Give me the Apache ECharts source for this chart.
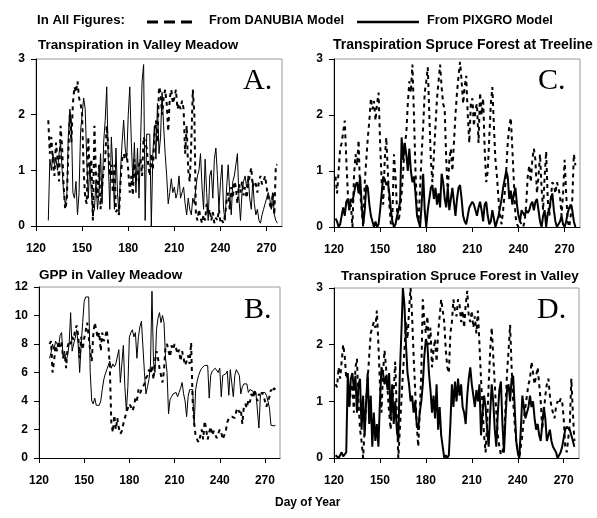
<!DOCTYPE html>
<html><head><meta charset="utf-8">
<script src="https://cdn.jsdelivr.net/npm/echarts@6/dist/echarts.min.js"></script>
<style>html,body{margin:0;padding:0;background:#fff}#c{width:597px;height:518px}</style>
</head><body><div id="c"></div>
<script>
// ---- data (day of year, daily values) ----
const xTicks = [120,150,180,210,240,270];
const firstDayA = 128;
const pixgroA = [0.1,1.2,1.0,1.3,1.1,1.2,1.0,1.3,1.5,1.0,
0.6,0.4,0.5,1.6,2.1,1.9,0.6,0.5,0.8,0.2,
0.6,1.7,2.0,2.3,2.1,1.2,0.5,1.1,0.6,0.2,
0.3,0.8,0.3,0.6,1.3,0.4,1.5,1.9,2.5,1.2,
0.3,1.6,1.0,0.3,1.4,0.6,0.2,1.0,1.5,1.9,
1.4,1.2,2.0,2.5,1.5,0.8,1.5,0.6,1.4,0.5,
1.5,2.6,2.9,0.1,1.65,1.65,1.65,0.0,1.3,1.8,
1.2,2.2,1.3,1.6,2.4,1.8,1.3,0.9,0.4,0.6,
0.85,0.6,0.7,0.5,0.6,0.9,0.5,0.5,0.7,0.4,
0.2,0.5,0.3,0.2,0.5,0.4,0.7,0.9,1.0,1.3,
0.7,0.3,1.2,0.6,0.1,0.9,1.0,0.5,1.2,1.4,
0.9,0.3,0.8,1.1,0.3,0.1,0.7,1.1,0.6,0.2,
0.8,0.9,1.1,1.3,0.5,0.1,0.6,0.8,0.9,0.7,
0.9,0.5,0.3,0.8,0.4,0.2,0.3,0.1,0.05,0.2,
0.3,0.4,0.5,0.6,0.5,0.3,0.6,0.2,0.1,0.05];
const danubiaA = [1.9,1.3,1.6,1.1,0.9,1.5,1.2,0.8,1.8,1.4,
0.7,0.3,0.45,1.3,2.0,1.5,2.2,2.5,2.4,2.6,
2.3,2.2,2.0,1.0,0.5,0.4,1.6,0.9,1.2,0.1,
1.8,0.9,0.5,1.1,0.3,0.7,1.0,1.2,1.8,1.4,
0.9,1.1,0.6,1.1,0.25,0.3,0.2,0.8,1.2,1.3,
1.2,1.3,1.0,0.6,0.9,0.55,1.2,0.8,0.9,1.1,
1.2,0.9,1.6,1.6,1.4,1.1,0.9,1.3,1.0,1.6,
1.9,1.5,2.5,2.4,2.0,2.3,2.45,2.2,1.7,2.3,
2.45,2.2,2.3,2.45,2.1,2.2,2.1,2.25,2.1,1.3,
1.8,1.0,0.8,1.5,2.45,2.0,0.2,0.1,0.3,0.15,
0.05,0.2,0.1,0.4,0.2,0.3,0.1,0.25,0.05,0.15,
0.1,0.3,0.05,0.1,0.05,0.2,0.45,0.6,0.3,0.7,
0.5,0.8,0.7,0.4,0.75,0.6,0.8,0.55,0.7,0.5,
0.75,0.9,1.05,0.7,0.8,0.75,0.6,0.8,0.9,0.75,
0.8,0.9,0.7,0.5,0.4,0.3,0.6,0.2,1.1,1.1];

const firstDayB = 127;
const pixgroB = [7.0,7.4,8.0,7.6,8.2,8.3,7.8,8.6,8.8,7.0,
7.5,6.8,7.2,8.0,10.2,7.5,8.0,8.4,9.0,8.0,
6.0,8.0,9.5,11.0,11.3,11.2,11.3,6.0,4.0,3.8,
4.2,3.7,3.6,3.7,4.0,4.8,5.5,5.9,6.2,6.5,
6.8,6.3,6.6,6.4,6.6,6.5,7.6,5.3,5.4,7.9,
5.0,3.3,5.0,8.5,8.8,9.0,8.5,8.8,7.0,8.5,
9.2,9.6,9.7,6.0,4.5,5.0,5.5,6.5,11.7,6.8,
6.0,9.0,9.8,10.2,9.5,10.0,9.5,7.0,6.0,3.1,
4.1,4.3,4.5,4.4,4.6,4.3,4.6,4.9,5.3,4.5,
4.0,2.9,4.3,4.8,4.7,4.8,2.3,4.8,5.4,5.8,
6.1,6.3,6.4,6.5,6.5,6.5,4.2,5.8,6.1,6.2,
6.3,6.3,6.0,6.3,4.3,5.8,5.7,5.9,6.1,4.4,
6.2,6.3,4.3,5.8,6.2,6.2,5.8,4.5,5.0,5.2,
5.1,5.2,4.6,4.8,4.9,4.7,4.4,4.6,4.6,2.1,
4.4,4.6,4.7,4.6,4.4,4.0,3.5,2.3,2.3,2.25,
2.3];
const danubiaB = [8.0,8.2,6.0,6.8,7.9,7.5,8.2,7.8,8.1,7.0,
7.3,6.3,7.8,8.2,8.0,8.5,8.3,9.0,9.3,8.6,
7.0,8.5,7.6,8.4,8.9,9.5,8.5,7.5,6.8,8.6,
9.5,9.0,8.4,8.8,7.5,8.8,8.2,8.5,9.0,8.0,
6.5,2.5,1.8,3.0,2.0,2.8,2.1,1.7,1.9,2.4,
2.8,3.2,3.5,3.8,3.6,3.3,3.6,4.2,4.0,4.8,
4.5,4.8,5.0,5.2,5.6,5.8,6.2,5.9,6.5,5.5,
6.8,7.5,7.0,6.3,5.8,5.3,6.2,7.8,8.0,7.5,
7.1,7.9,7.6,8.0,7.7,7.3,7.6,6.8,7.5,7.0,
6.5,6.8,7.2,6.6,8.1,4.0,2.5,1.5,1.3,1.1,
1.5,2.0,1.3,2.6,2.0,1.3,1.8,2.2,1.6,1.9,
1.8,1.4,1.7,2.0,1.8,1.3,1.6,1.9,2.5,2.8,
2.7,2.9,3.0,2.8,3.3,3.5,3.2,3.4,2.4,3.6,
3.8,3.5,4.1,3.9,4.5,4.2,4.8,4.3,4.0,4.5,
4.3,4.6,4.4,4.0,3.6,4.0,4.3,4.8,4.6,4.9,
4.8];

const firstDayC = 121;
const pixgroC = [0.15,0.1,0.0,0.05,0.2,0.35,0.2,0.45,0.5,0.3,
0.5,0.45,0.6,0.75,0.8,0.6,0.9,0.4,0.05,0.3,
0.75,0.7,0.4,0.2,0.1,0.0,0.1,0.0,0.05,0.3,
0.6,0.9,0.85,0.75,0.8,0.6,0.3,0.1,0.0,0.05,
0.2,0.3,0.45,1.6,1.2,1.5,1.3,1.0,1.4,1.0,
0.8,0.9,0.6,0.2,0.1,0.0,0.4,0.95,0.3,0.0,
0.3,0.5,0.7,0.75,0.5,0.7,0.4,0.6,0.35,0.95,
0.8,0.5,0.35,0.7,0.3,0.5,0.7,0.45,0.2,0.5,
0.7,0.75,0.5,0.2,0.1,0.05,0.2,0.35,0.4,0.45,
0.4,0.3,0.2,0.35,0.45,0.3,0.1,0.4,0.45,0.2,
0.05,0.1,0.3,0.15,0.0,0.1,0.2,0.35,0.5,0.7,
0.85,1.0,0.9,0.5,0.65,0.4,0.6,0.7,0.4,0.2,
0.1,0.3,0.25,0.2,0.3,0.25,0.3,0.4,0.45,0.3,
0.45,0.5,0.3,0.1,0.0,0.2,0.3,0.0,0.25,0.3,
0.5,0.6,0.3,0.1,0.0,0.05,0.1,0.2,0.05,0.0,
0.1,0.25,0.35,0.4,0.3,0.1,0.0];
const danubiaC = [0.9,0.6,1.0,1.4,1.5,1.7,1.9,1.2,0.6,0.3,
0.4,0.0,0.9,1.3,1.1,1.55,0.6,0.3,0.0,0.8,
1.2,1.6,1.9,2.3,2.1,2.25,1.9,2.2,2.4,1.5,
0.8,0.4,1.2,1.6,1.0,0.4,0.05,0.2,1.3,0.9,
0.3,0.1,0.3,0.6,1.0,1.5,1.65,2.2,2.6,2.4,
2.9,2.0,1.0,0.3,0.1,0.7,1.3,1.8,2.4,2.6,
2.85,2.0,1.2,0.8,1.3,1.8,2.3,2.6,2.9,2.5,
2.2,2.1,1.2,0.6,1.2,1.4,1.0,1.5,2.0,2.4,
2.7,2.95,2.6,2.2,2.5,2.7,2.0,1.5,2.2,2.3,
1.8,2.1,2.2,1.5,2.4,2.0,2.3,1.4,0.8,1.0,
1.6,2.2,2.5,1.8,1.2,0.9,0.5,0.2,0.05,0.3,
0.6,1.0,1.5,1.8,1.95,1.4,0.8,0.2,0.05,0.0,
0.1,0.05,0.0,0.1,0.4,0.9,1.1,0.8,1.2,1.4,
1.2,0.6,0.9,1.3,0.7,0.3,0.9,1.35,0.5,0.2,
0.5,0.8,0.75,0.6,0.8,0.7,0.55,0.2,0.6,1.2,
0.6,0.1,0.0,0.2,0.5,1.3,1.1];

const firstDayD = 121;
const pixgroD = [0.05,0.08,0.0,0.05,0.1,0.03,0.05,0.1,1.5,0.9,
1.4,1.5,1.2,1.45,0.8,1.3,1.4,0.5,1.1,0.4,
1.0,1.5,0.6,1.1,0.2,0.8,0.3,0.6,0.2,1.0,
1.6,1.5,1.3,1.45,1.2,1.5,0.7,1.3,0.6,1.0,
0.5,0.3,1.5,2.2,3.0,2.7,2.0,1.5,1.3,1.0,
1.1,0.8,1.0,0.6,0.5,0.8,1.0,1.3,1.8,2.1,
2.0,1.5,1.2,0.8,1.1,0.7,1.3,0.5,0.9,0.4,
0.2,0.0,0.05,0.0,0.05,0.6,1.3,0.9,1.35,1.0,
1.4,1.1,1.3,0.9,0.8,0.6,1.1,1.4,1.6,1.3,
1.1,0.9,1.2,1.0,1.3,0.4,0.8,1.1,0.9,0.5,
0.2,0.8,1.3,1.0,0.5,0.2,0.8,1.2,1.35,0.6,
0.1,0.7,1.2,1.3,1.0,1.4,1.45,0.9,0.3,0.1,
0.0,0.5,1.1,0.9,0.7,0.8,0.9,1.1,0.9,1.0,
0.7,0.5,0.6,0.4,0.3,0.6,0.9,0.7,0.3,0.4,
0.5,0.3,0.2,0.2,0.1,0.0,0.05,0.1,0.2,0.35,
0.5,0.55,0.55,0.5,0.4,0.3,0.2];
const danubiaD = [1.3,1.25,1.6,1.4,1.7,2.0,1.8,1.4,1.5,0.9,
1.2,1.3,0.8,1.6,1.75,1.0,0.5,0.3,0.0,0.5,
1.0,1.4,1.8,2.2,2.3,2.4,2.3,2.6,2.0,1.3,
0.8,1.5,1.9,1.6,1.2,0.8,0.5,1.0,1.2,1.7,
0.8,0.0,0.5,1.0,1.5,1.9,2.4,2.1,2.6,3.0,
2.5,1.8,1.2,0.6,0.2,0.8,1.5,2.8,2.4,2.2,
2.5,2.0,2.3,1.6,1.9,2.1,1.7,2.2,2.5,2.8,
2.6,2.4,1.9,1.6,1.5,2.2,2.4,2.8,2.6,2.5,
2.8,2.7,2.4,2.6,2.3,2.7,2.95,2.5,2.4,2.6,
2.3,2.5,2.2,2.6,2.0,1.4,0.9,0.4,0.1,0.6,
1.3,1.9,2.3,1.8,1.3,0.8,0.4,0.2,0.05,0.1,
0.3,0.9,1.5,1.9,2.35,1.6,1.0,0.6,0.3,0.1,
0.0,0.2,0.4,0.7,0.9,1.1,1.3,1.4,1.7,1.5,
1.3,1.45,1.6,1.3,1.0,0.5,0.8,1.1,1.3,1.4,
1.1,0.9,0.8,0.7,0.9,1.0,0.95,1.05,1.0,0.7,
0.2,0.1,0.1,0.6,1.4,0.8,0.3];

// ---- chart ----
function pairs(first, vals){ return vals.map((v,i)=>[first+i, v]); }
const FONT = 'Liberation Sans, Arial, sans-serif';
const grids = [
  {left:36, top:59, width:246, height:167},   // A
  {left:39, top:287, width:241, height:171},  // B
  {left:334, top:59, width:246, height:168},  // C
  {left:334, top:288, width:245, height:170}  // D
];
const yMax = [3,12,3,3], yInt = [1,2,1,1];
const xAxis = grids.map((g,i)=>({
  type:'value', gridIndex:i, min:120, max:280, interval:10,
  axisLine:{show:true, lineStyle:{color:'#000', width:1}},
  axisTick:{show:true, length:5, inside:false, lineStyle:{color:'#000'}, customValues:xTicks},
  axisLabel:{show:true, customValues:xTicks, margin:17, color:'#000', fontFamily:FONT, fontWeight:'bold', fontSize:12},
  splitLine:{show:false}
}));
const yAxis = grids.map((g,i)=>({
  type:'value', gridIndex:i, min:0, max:yMax[i], interval:yInt[i],
  axisLine:{show:true, lineStyle:{color:'#000', width:1}},
  axisTick:{show:true, length:5, lineStyle:{color:'#000'}},
  axisLabel:{margin:11, color:'#000', fontFamily:FONT, fontWeight:'bold', fontSize:12},
  splitLine:{show:false}
}));
const thin = {color:'#000', width:1};
const thick = {color:'#000', width:2};
const dash = {color:'#000', width:2, type:[4,4]};
function line(name, idx, data, style){
  return {name, type:'line', xAxisIndex:idx, yAxisIndex:idx, data, showSymbol:false, symbol:'none',
    lineStyle:style, silent:true, animation:false, z: style===dash?3:2};
}
const series = [
  line('From PIXGRO Model',0,pairs(firstDayA,pixgroA),thin),
  line('From DANUBIA Model',0,pairs(firstDayA,danubiaA),dash),
  line('From PIXGRO Model',1,pairs(firstDayB,pixgroB),thin),
  line('From DANUBIA Model',1,pairs(firstDayB,danubiaB),dash),
  line('From PIXGRO Model',2,pairs(firstDayC,pixgroC),thick),
  line('From DANUBIA Model',2,pairs(firstDayC,danubiaC),dash),
  line('From PIXGRO Model',3,pairs(firstDayD,pixgroD),thick),
  line('From DANUBIA Model',3,pairs(firstDayD,danubiaD),dash)
];
const tstyle = (s)=>Object.assign({fill:'#000', fontFamily:FONT, fontWeight:'bold', fontSize:13, textVerticalAlign:'middle'}, s);
const letter = (x,y,t)=>({type:'text', left:x, top:y, style:{text:t, fill:'#000', fontFamily:'Liberation Serif, Times New Roman, serif', fontSize:30}});
const graphic = [
  {type:'text', left:37, top:14, style:tstyle({text:'In All Figures:', fontSize:13.2})},
  {type:'line', shape:{x1:147,y1:22,x2:158,y2:22}, style:{stroke:'#000', lineWidth:3}},
  {type:'line', shape:{x1:164,y1:22,x2:175,y2:22}, style:{stroke:'#000', lineWidth:3}},
  {type:'line', shape:{x1:181,y1:22,x2:192,y2:22}, style:{stroke:'#000', lineWidth:3}},
  {type:'text', left:209, top:14, style:tstyle({text:'From DANUBIA Model', fontSize:12.8})},
  {type:'line', shape:{x1:357,y1:22,x2:419,y2:22}, style:{stroke:'#000', lineWidth:2.5}},
  {type:'text', left:427, top:14, style:tstyle({text:'From PIXGRO Model', fontSize:12.8})},
  {type:'text', left:38, top:38, style:tstyle({text:'Transpiration in Valley Meadow', fontSize:13.5})},
  {type:'text', left:333, top:38, style:tstyle({text:'Transpiration Spruce Forest at Treeline', fontSize:14})},
  {type:'text', left:39, top:268, style:tstyle({text:'GPP in Valley Meadow', fontSize:13.5})},
  {type:'text', left:341, top:269, style:tstyle({text:'Transpiration Spruce Forest in Valley', fontSize:13.5})},
  {type:'text', left:275, top:497, style:tstyle({text:'Day of Year', fontSize:12})},
  letter(243,66,'A.'), letter(244,295,'B.'), letter(538,66,'C.'), letter(537,295,'D.'),
  // light frame (top and right edges of each plot)
  ...grids.map(g=>({type:'polyline', shape:{points:[[g.left,g.top+g.height],[g.left,g.top],[g.left+g.width,g.top],[g.left+g.width,g.top+g.height]]}, style:{stroke:'#9a9a9a', lineWidth:1, fill:null}, z:0}))
];
const chart = echarts.init(document.getElementById('c'), null, {renderer:'canvas'});
chart.setOption({animation:false, backgroundColor:'#fff', grid:grids, xAxis, yAxis, series, graphic});
</script></body></html>
